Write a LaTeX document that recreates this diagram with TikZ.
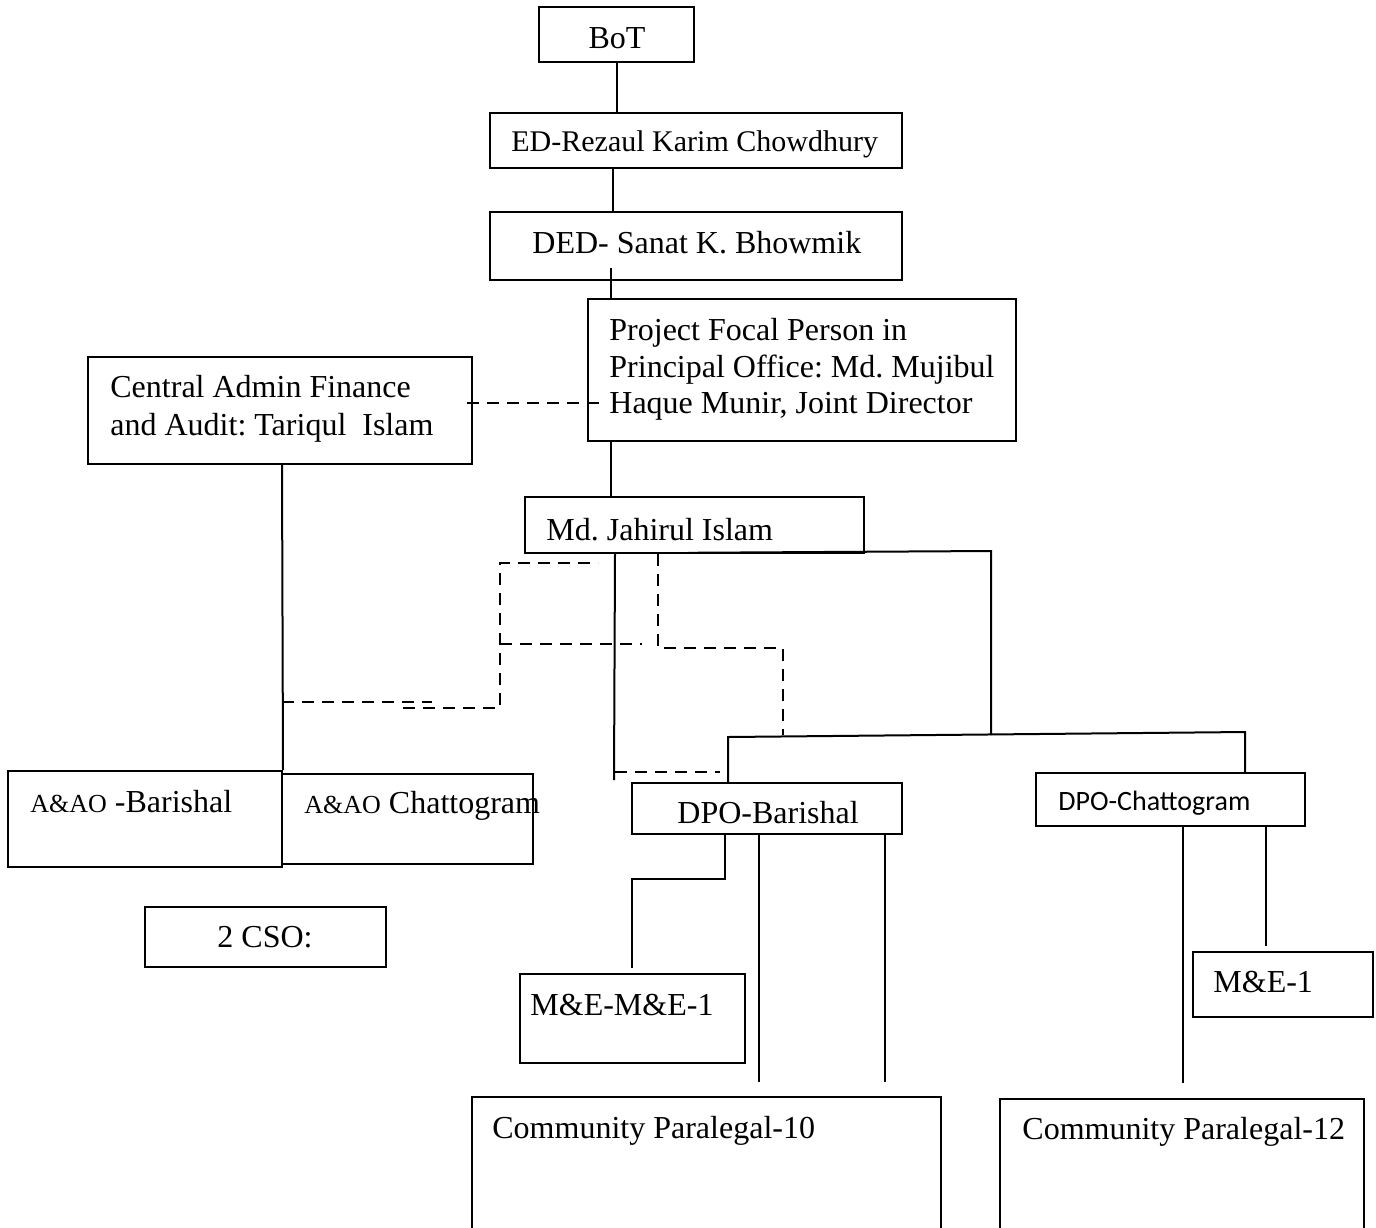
\documentclass[tikz,border=0pt]{standalone}
\usepackage{fontspec}
\setmainfont{Liberation Serif}
\newfontfamily\calibri{Carlito}
\usetikzlibrary{fit,calc}
\frenchspacing
\begin{document}
\begin{tikzpicture}[x=0.5pt,y=-0.5pt,
  box/.style={draw,line width=1pt,inner sep=0pt},
  lbl/.style={anchor=base west,inner sep=0pt,font=\fontsize{16}{19}\selectfont},
  conn/.style={line width=1pt},
  dconn/.style={line width=1.4pt,dash pattern=on 6pt off 4pt}]
\useasboundingbox (0,0) rectangle (1376,1227);
% boxes
\node[box,fit={(539,7)(694,62)}] (bot) {};
\node[box,fit={(490,113)(902,168)}] (ed) {};
\node[box,fit={(490,212)(902,280)}] (ded) {};
\node[box,fit={(588,299)(1016,441)}] (pfp) {};
\node[box,fit={(88,357)(472,464)}] (cen) {};
\node[box,fit={(525,497)(864,553)}] (jah) {};
\node[box,fit={(8,771)(282,867)}] (aab) {};
\node[box,fit={(282,774)(533,864)}] (aac) {};
\node[box,fit={(145,907)(386,967)}] (cso) {};
\node[box,fit={(632,783)(902,834)}] (dpob) {};
\node[box,fit={(1036,773)(1305,826)}] (dpoc) {};
\node[box,fit={(520,974)(745,1063)}] (meb) {};
\node[box,fit={(1193,952)(1373,1017)}] (mec) {};
\node[box,fit={(472,1097)(941,1240)}] (cp10) {};
\node[box,fit={(1000,1099)(1364,1240)}] (cp12) {};
% texts
\node[lbl,anchor=base] (tbot) at (617,48) {BoT};
\node[lbl,font=\fontsize{15}{18}\selectfont] (ted) at (511,151) {ED-Rezaul Karim Chowdhury};
\node[lbl] (tded) at (532,253) {DED- Sanat K. Bhowmik};
\node[lbl] (tpfp1) at (609,340) {Project Focal Person in};
\node[lbl] (tpfp2) at (609,377) {Principal Office: Md. Mujibul};
\node[lbl] (tpfp3) at (609,413) {Haque Munir, Joint Director};
\node[lbl] (tcen1) at (110,397) {Central Admin Finance};
\node[lbl] (tcen2) at (110,435) {and Audit: Tariqul~ Islam};
\node[lbl] (tjah) at (546,540) {Md. Jahirul Islam};
\node[lbl] (taab) at (30,812) {{\fontsize{13}{15}\selectfont A\&AO} -Barishal};
\node[lbl] (taac) at (304,813) {{\fontsize{13}{15}\selectfont A\&AO} Chattogram};
\node[lbl,anchor=base] (tcso) at (265,947) {2 CSO:};
\node[lbl] (tdpob) at (677,823) {DPO-Barishal};
\node[lbl,font=\calibri\fontsize{14}{17}\selectfont] (tdpoc) at (1058,810) {DPO-Chattogram};
\node[lbl] (tmeb) at (530,1015) {M\&E-M\&E-1};
\node[lbl] (tmec) at (1213,992) {M\&E-1};
\node[lbl] (tcp10) at (492,1138) {Community Paralegal-10};
\node[lbl] (tcp12) at (1022,1139) {Community Paralegal-12};
% helper coordinates
\coordinate (x613) at (613,0);
\coordinate (s611) at (611,268);
\coordinate (x611) at (611,0);
\coordinate (y403) at (0,403);
\coordinate (x282) at (282,0);
\coordinate (d1) at (282,702);
\coordinate (d2) at (432,702);
\coordinate (d3) at (403,708);
\coordinate (d4) at (500,708);
\coordinate (d5) at (500,563);
\coordinate (d6) at (598,563);
\coordinate (d7) at (500,644);
\coordinate (d8) at (642,644);
\coordinate (x658) at (658,0);
\coordinate (e1) at (658,648);
\coordinate (e2) at (783,648);
\coordinate (e3) at (783,735);
\coordinate (x615) at (615,0);
\coordinate (j1) at (614,780);
\coordinate (f1) at (615,772);
\coordinate (f2) at (720,772);
\coordinate (x688) at (688,0);
\coordinate (g1) at (991,551);
\coordinate (g2) at (991,735);
\coordinate (x728) at (728,0);
\coordinate (h1) at (728,737);
\coordinate (h2) at (1245,732);
\coordinate (x1245) at (1245,0);
\coordinate (x725) at (725,0);
\coordinate (k1) at (725,879);
\coordinate (k2) at (632,879);
\coordinate (x632) at (632,0);
\coordinate (x759) at (759,0);
\coordinate (x885) at (885,0);
\coordinate (x1183) at (1183,0);
\coordinate (x1266) at (1266,0);
% connectors
\draw[conn] (bot.south) -- (bot.south |- ed.north);
\draw[conn] (ed.south -| x613) -- (ded.north -| x613);
\draw[conn] (s611) -- (pfp.north -| x611);
\draw[conn] (pfp.south -| x611) -- (jah.north -| x611);
\draw[dconn] ([xshift=-3pt]cen.east |- y403) -- ([xshift=9.5pt]pfp.west |- y403);
\draw[conn] (cen.south -| x282) -- (aab.north east);
\draw[dconn] (d1) -- (d2);
\draw[dconn] (d3) -- (d4) -- (d5) -- (d6);
\draw[dconn] (d7) -- (d8);
\draw[dconn] (jah.south -| x658) -- (e1) -- (e2) -- (e3);
\draw[conn] (jah.south -| x615) -- (j1);
\draw[dconn] (f1) -- (f2);
\draw[conn] ([yshift=0.6pt]jah.south -| x688) -- (g1) -- (g2);
\draw[conn] (dpob.north -| x728) -- (h1) -- (h2) -- (dpoc.north -| x1245);
\draw[conn] (dpob.south -| x725) -- (k1) -- (k2) -- ([yshift=2.5pt]meb.north -| x632);
\draw[conn] (dpob.south -| x759) -- ([yshift=7pt]cp10.north -| x759);
\draw[conn] (dpob.south -| x885) -- ([yshift=7pt]cp10.north -| x885);
\draw[conn] (dpoc.south -| x1183) -- ([yshift=7.5pt]cp12.north -| x1183);
\draw[conn] (dpoc.south -| x1266) -- ([yshift=2.5pt]mec.north -| x1266);
\end{tikzpicture}
\end{document}
